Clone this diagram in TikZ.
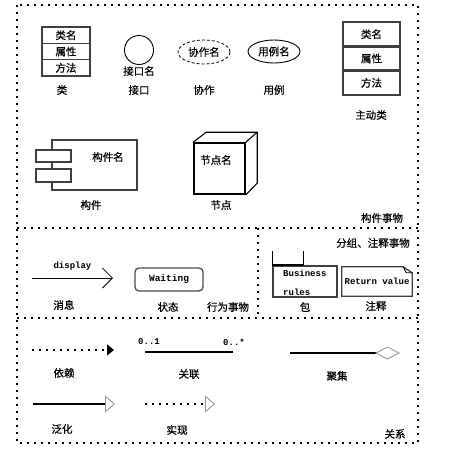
\documentclass[tikz,border=0pt]{standalone}
\usepackage{fontspec}
\setmonofont{Liberation Mono}
\newfontfamily\cjk[FakeBold=0.6]{Noto Sans CJK SC}
\usetikzlibrary{arrows.meta,positioning,shapes.geometric}

\begin{document}
\begin{tikzpicture}[x=1pt, y=-1pt, line join=miter, font=\cjk\fontsize{10.5}{12}\selectfont]
	\tikzset{
		dotline/.style={line width=1.6pt, dash pattern=on 1.6pt off 5.4pt},
		lbl/.style={inner sep=0pt},
		cbox/.style={draw=black!75, line width=1.4pt, minimum width=48pt, minimum height=16.3pt, inner sep=0pt},
		abox/.style={cbox, line width=2.4pt, minimum width=57pt, minimum height=24.3pt},
		code/.style={font=\ttfamily\bfseries\fontsize{9}{10}\selectfont, inner sep=0pt},
		rel/.style={line width=1.5pt},
		dotrel/.style={line width=1.5pt, dash pattern=on 1.5pt off 5.5pt}
	}
	\useasboundingbox (0,0) rectangle (454,450);
	% frames
	\path (17,5) coordinate (TL) (418,443) coordinate (BR)
		(17,228) coordinate (L1) (418,228) coordinate (R1)
		(17,318) coordinate (L2) (418,318) coordinate (R2)
		(258,228) coordinate (M1) (258,318) coordinate (M2);
	\draw [dotline] (TL) rectangle (BR);
	\draw [dotline] (L1)--(R1) (L2)--(R2) (M1)--(M2);
	% class and active class
	\foreach \t/\y [count=\i] in {类名/35.2, 属性/51.5, 方法/67.8}{
		\node [cbox] (cls\i) at (66,\y) {\t};
	}
	\foreach \t/\y [count=\i] in {类名/34.2, 属性/58.5, 方法/82.8}{
		\node [abox] (act\i) at (371.5,\y) {\t};
	}
	% interface, collaboration, use case
	\node [circle, draw, line width=0.9pt, minimum size=29pt, inner sep=0pt] (ifc) at (139,50) {};
	\node [lbl] (ifcname) at (139,71) {接口名};
	\node [ellipse, draw, line width=0.8pt, dash pattern=on 3pt off 2pt, minimum width=52pt, minimum height=24pt, inner sep=0pt] (col) at (204,52) {协作名};
	\node [ellipse, draw, line width=0.9pt, minimum width=52pt, minimum height=23pt, inner sep=0pt] (uc) at (274,51.5) {用例名};
	% component
	\node [draw=black!75, line width=1.3pt, minimum width=85pt, minimum height=50pt] (cmp) at (94.5,165) {};
	\node [draw=black!75, fill=white, line width=1.3pt, minimum width=35pt, minimum height=12pt] (cmpa) at (53.5,156) {};
	\node [draw=black!75, fill=white, line width=1.3pt, minimum width=35pt, minimum height=13pt] (cmpb) at (53.5,175.5) {};
	\node [lbl] (cmpname) at (108,157) {构件名};
	% node (cube)
	\node [draw, line width=1.6pt, minimum width=51pt, minimum height=51pt] (nd) at (219.5,168.5) {};
	\draw [line width=1.1pt] (nd.north west)--++(13,-10) coordinate (ndb)--++(51,0) coordinate (ndc)--++(0,51)--(nd.south east);
	\draw [line width=1.1pt] (nd.north east)--(ndc);
	\node [lbl] (ndname) at (216,160) {节点名};
	% message and state
	\coordinate (m1) at (32,278);
	\coordinate (m2) at (113,278);
	\draw [line width=0.8pt, -{Straight Barb[length=10pt, width=20pt]}] (m1)--node[code, above=7pt] (msg) {display} (m2);
	\node [draw=black!70, line width=1.3pt, rounded corners=4pt, minimum width=68pt, minimum height=23pt, code, font=\ttfamily\bfseries\fontsize{9.5}{10}\selectfont] (st) at (169,279.5) {Waiting};
	% package and note
	\node [draw=black!75, line width=1.3pt, minimum width=64pt, minimum height=31pt] (pkg) at (305,281.5) {};
	\draw [line width=1.1pt] (pkg.north west)--++(0,-14) ([xshift=31pt]pkg.north west)--++(0,-14);
	\draw [line width=2.2pt] (pkg.north west)--++(31,0);
	\node [code, anchor=west] (pkg1) at (283,273) {Business};
	\node [code, anchor=west] (pkg2) at (283,292) {rules};
	\node [code, minimum width=70pt, minimum height=29pt] (nt) at (377,281.5) {Return value};
	\draw [line width=1.3pt, draw=black!75] (nt.south west)--(nt.north west)--([xshift=-9pt]nt.north east)--([yshift=-6pt]nt.north east)--(nt.south east)--cycle;
	\draw [line width=0.8pt] ([xshift=-9pt]nt.north east)--([xshift=-6pt,yshift=-6pt]nt.north east)--([yshift=-6pt]nt.north east);
	% relations
	\path (32,350) coordinate (dep1) (114,350) coordinate (dep2)
		(145,352) coordinate (as1) (233,352) coordinate (as2)
		(290,353) coordinate (ag1) (400,353) coordinate (ag2)
		(33,404) coordinate (ge1) (115,404) coordinate (ge2)
		(145,404) coordinate (re1) (215,404) coordinate (re2);
	\draw [dotrel, -{Triangle[length=7pt, width=11pt]}] (dep1)--(dep2);
	\draw [rel] (as1)--(as2);
	\node [code] (m01) at (149,342) {0..1};
	\node [code] (m0n) at (234,342) {0..*};
	\draw [rel, -{Diamond[open, length=25pt, width=13pt, color=gray!80, line width=0.9pt]}] (ag1)--(ag2);
	\draw [rel, -{Triangle[open, length=10pt, width=17pt, color=gray!80, line width=0.9pt]}] (ge1)--(ge2);
	\draw [dotrel, -{Triangle[open, length=10pt, width=17pt, color=gray!80, line width=0.9pt, sep=0pt]}] (re1)--(re2);
	% captions
	\foreach \x/\y/\t [count=\i] in {62/90/类, 139/90/接口, 204/90/协作, 274/90/用例, 371/115/主动类,
		91/205/构件, 221/205/节点, 382/218/构件事物, 64/305/消息, 168/307/状态, 228/307/行为事物,
		305/307/包, 376/306/注释, 373/243/分组、注释事物, 64/373/依赖, 189/374/关联, 337/376/聚集,
		62/429/泛化, 177/430/实现, 395/434/关系}{
		\node [lbl] (cap\i) at (\x,\y) {\t};
	}
\end{tikzpicture}
\end{document}
